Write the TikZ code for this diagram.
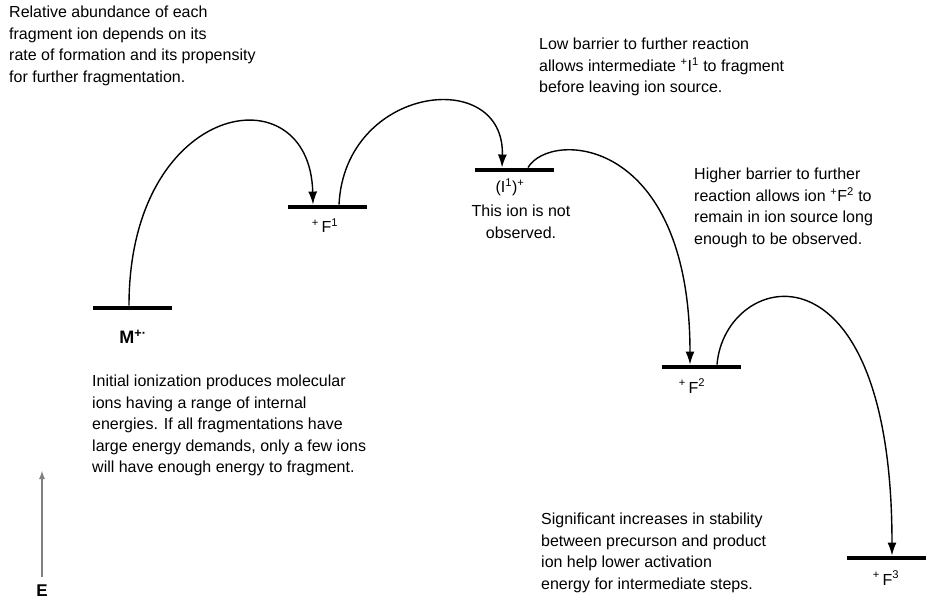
\documentclass[tikz,border=0pt]{standalone}
\usepackage{fontspec}
\setmainfont{Liberation Sans}
\usetikzlibrary{arrows.meta}
\begin{document}
\begin{tikzpicture}[x=1pt,y=-1pt,
  level/.style={fill=black,draw=none,minimum width=79pt,minimum height=4.5pt,inner sep=0pt},
  txt/.style={inner sep=0pt,align=left,anchor=north west,font=\fontsize{16}{21.5}\selectfont},
  lab/.style={inner sep=0pt,font=\fontsize{16}{21.5}\selectfont},
  conn/.style={line width=1.4pt,-{Latex[length=13pt,width=9pt]}}]
\useasboundingbox (0,0) rectangle (946,606);
% energy levels
\node[level] (M)  at (132.5,308) {};
\node[level] (F1) at (327.5,207) {};
\node[level] (I1) at (514,170) {};
\node[level] (F2) at (701,367) {};
\node[level] (F3) at (886.5,558) {};
% level labels
\node[lab,font=\fontsize{18}{21.5}\selectfont\bfseries] (Ml)  at (133,337) {M\textsuperscript{+·}};
\node[lab] (F1l) at (325,226) {\textsuperscript{+}\,F\textsuperscript{1}};
\node[lab] (I1l) at (510,187) {(I\textsuperscript{1})\textsuperscript{+}};
\node[lab] (F2l) at (692,386) {\textsuperscript{+}\,F\textsuperscript{2}};
\node[lab] (F3l) at (886,578) {\textsuperscript{+}\,F\textsuperscript{3}};
% connectors
\draw[conn] ([xshift=-3.5pt]M.north) .. controls (129,100) and (310,70) .. ([xshift=-14.5pt]F1.north);
\draw[conn] ([xshift=11.5pt]F1.north) .. controls (345,85) and (505,66) .. ([xshift=-12pt]I1.north);
\draw[conn] ([xshift=14pt]I1.north) .. controls (550,130) and (690,135) .. ([xshift=-11pt]F2.north);
\draw[conn] ([xshift=16pt]F2.north) .. controls (725,270) and (892,230) .. ([xshift=5.5pt]F3.north);
% energy axis
\node[lab,font=\fontsize{17}{20}\selectfont\bfseries] (E) at (42,591) {E};
\coordinate (Etop) at (42,470);
\draw[line width=1.8pt,gray,-{Latex[length=9pt,width=6pt]}] ([yshift=8pt]E.north) -- (Etop);
% annotations
\node[txt] (t1) at (9,6) {Relative abundance of each\\fragment ion depends on its\\rate of formation and its propensity\\for further fragmentation.};
\node[txt] (t2) at (539,38) {Low barrier to further reaction\\allows intermediate \textsuperscript{+}I\textsuperscript{1} to fragment\\before leaving ion source.};
\node[txt,align=center,anchor=north] (t3) at (521,205) {This ion is not\\observed.};
\node[txt] (t4) at (694,168) {Higher barrier to further\\reaction allows ion \textsuperscript{+}F\textsuperscript{2} to\\remain in ion source long\\enough to be observed.};
\node[txt] (t5) at (92,375) {Initial ionization produces molecular\\ions having a range of internal\\energies. If all fragmentations have\\large energy demands, only a few ions\\will have enough energy to fragment.};
\node[txt] (t6) at (541,513) {Significant increases in stability\\between precurson and product\\ion help lower activation\\energy for intermediate steps.};
\end{tikzpicture}
\end{document}
